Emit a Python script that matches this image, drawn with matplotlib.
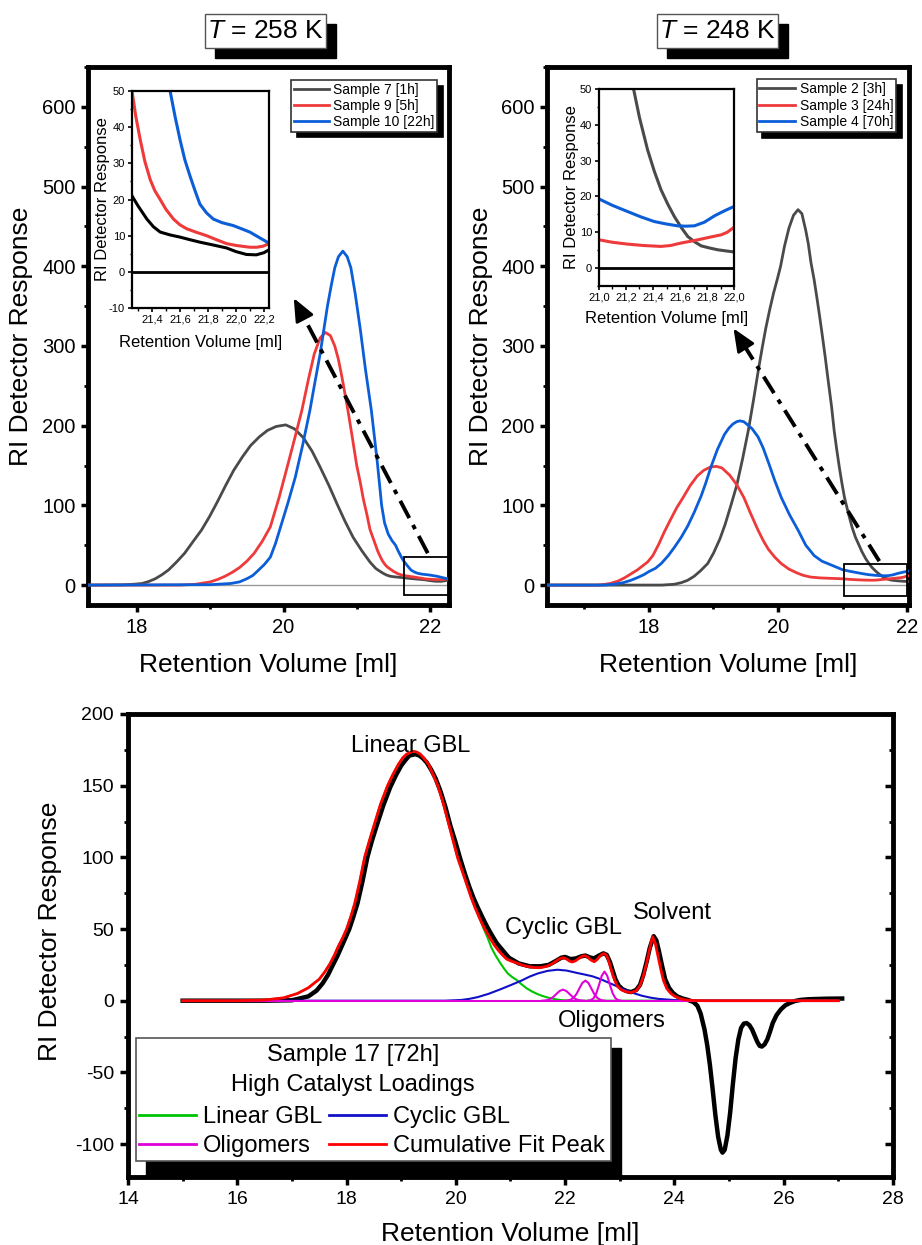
## GPC traces of GBL polymerisation samples at two temperatures + peak fit

import matplotlib
matplotlib.use('Agg')
import matplotlib.pyplot as plt
from matplotlib.patches import Rectangle
from matplotlib.ticker import MultipleLocator

plt.rcParams['font.family'] = ['Liberation Sans', 'DejaVu Sans']
plt.rcParams['mathtext.fontset'] = 'custom'
plt.rcParams['mathtext.it'] = 'Liberation Sans:italic'
plt.rcParams['mathtext.rm'] = 'Liberation Sans'
plt.rcParams['axes.unicode_minus'] = False

## Data: T = 258 K
vol_s7 = [17.33, 17.8, 17.95, 18.07, 18.16, 18.25, 18.34, 18.43, 18.54, 18.65, 18.76, 18.88, 18.99, 19.1,
          19.21, 19.32, 19.44, 19.55, 19.67, 19.78, 19.9, 20.03, 20.15, 20.27, 20.39, 20.5, 20.62, 20.73,
          20.84, 20.95, 21.07, 21.18, 21.258, 21.3, 21.364, 21.41, 21.459, 21.53, 21.601, 21.67, 21.743,
          21.84, 21.933, 22.0, 22.075, 22.146, 22.2, 22.26]
ri_s7 = [0, 0.3, 1, 2, 4.5, 8, 13, 19, 29, 40, 54, 69, 86, 105,
         125, 144, 161, 175, 186, 194, 199, 201, 196, 185, 168, 148, 125, 102,
         80, 60, 43, 29, 21, 18.3, 14.6, 12.5, 11, 10.2, 9.6, 8.9, 8.2,
         7.4, 6.6, 5.6, 4.8, 4.7, 5.3, 6.6]

vol_s9 = [17.33, 18.6, 18.8, 18.9, 19.0, 19.1, 19.2, 19.3, 19.4, 19.5, 19.6, 19.71, 19.82, 19.94,
          20.05, 20.15, 20.25, 20.34, 20.42, 20.5, 20.57, 20.64, 20.7, 20.75, 20.8, 20.88, 20.94, 21.0,
          21.05, 21.09, 21.14, 21.18, 21.258, 21.285, 21.317, 21.35, 21.388, 21.42, 21.459, 21.5, 21.554,
          21.6, 21.649, 21.72, 21.79, 21.86, 21.933, 22.0, 22.099, 22.15, 22.194, 22.26]
ri_s9 = [0, 0, 1, 2.5, 4, 7, 11, 16, 22, 30, 40, 55, 73, 110,
         148, 183, 219, 258, 290, 310, 317, 313, 300, 283, 260, 219, 185, 150,
         128, 108, 88, 70, 50, 43, 36.5, 30.5, 25.5, 22.5, 20, 17.3, 14.6,
         13, 11.9, 10.9, 10, 8.9, 7.8, 7.3, 6.8, 6.8, 7.1, 8.2]

vol_s10 = [17.33, 19.0, 19.28, 19.4, 19.5, 19.58, 19.65, 19.74, 19.82, 19.89, 19.96, 20.06, 20.16, 20.26,
           20.36, 20.43, 20.5, 20.55, 20.6, 20.65, 20.7, 20.75, 20.81, 20.87, 20.92, 20.98, 21.05, 21.12,
           21.2, 21.28, 21.34, 21.38, 21.43, 21.48, 21.53, 21.565, 21.601, 21.635, 21.672, 21.71, 21.743,
           21.79, 21.838, 21.9, 21.98, 22.04, 22.099, 22.17, 22.26]
ri_s10 = [0, 0.5, 2, 4, 8, 12, 18, 26, 35, 52, 73, 103, 135, 175,
          219, 255, 290, 320, 350, 375, 398, 412, 419, 412, 398, 365, 320, 270,
          219, 155, 100, 78, 64, 56, 50, 43, 36.5, 31, 26.5, 22.2, 18.7,
          16.3, 14.6, 13.6, 12.8, 11.9, 11, 9.4, 7.4]

## Data: T = 248 K
vol_s2 = [16.42, 18.2, 18.39, 18.5, 18.6, 18.7, 18.8, 18.91, 19.0, 19.1, 19.18, 19.27, 19.36, 19.45,
          19.54, 19.62, 19.7, 19.76, 19.81, 19.87, 19.93, 19.99, 20.04, 20.1, 20.17, 20.24, 20.31, 20.37,
          20.43, 20.47, 20.51, 20.56, 20.6, 20.64, 20.68, 20.73, 20.78, 20.83, 20.87, 20.91, 20.95, 20.99,
          21.03, 21.09, 21.15, 21.2, 21.256, 21.3, 21.36, 21.41, 21.459, 21.51, 21.558, 21.61, 21.658,
          21.71, 21.757, 21.82, 21.881, 21.94, 22.0, 22.03]
ri_s2 = [0, 0, 1, 3, 6, 11, 18, 27, 40, 58, 76, 100, 125, 158,
         194, 232, 272, 300, 322, 345, 366, 384, 400, 425, 448, 464, 471, 466,
         445, 428, 405, 383, 362, 340, 317, 287, 255, 224, 194, 170, 148, 128,
         110, 90, 72, 60, 50, 42, 33, 27, 21.9, 17.8, 14.4, 11.3, 8.8,
         7.3, 6.2, 5.6, 5.1, 4.8, 4.5, 4.4]

vol_s3 = [16.42, 17.2, 17.3, 17.4, 17.52, 17.62, 17.72, 17.82, 17.9, 17.98, 18.06, 18.15, 18.24, 18.34,
          18.43, 18.53, 18.64, 18.75, 18.85, 18.95, 19.04, 19.13, 19.25, 19.36, 19.47, 19.58, 19.69, 19.77,
          19.85, 19.95, 20.05, 20.17, 20.3, 20.4, 20.51, 20.65, 20.8, 21.0, 21.1, 21.211, 21.33, 21.459,
          21.53, 21.608, 21.68, 21.757, 21.83, 21.906, 21.95, 22.0, 22.03]
ri_s3 = [0, 0, 0.8, 2, 5, 9, 14, 19, 24, 29, 37, 51, 67, 83,
         97, 110, 125, 137, 144, 148, 149, 147, 138, 126, 110, 89, 69, 56,
         45, 35, 27, 20, 15, 12, 10, 9, 8.5, 7.9, 7.2, 6.7, 6.3, 6.05,
         6.3, 7, 7.5, 8.1, 8.7, 9.3, 10.0, 11.4, 11.8]

vol_s4 = [16.42, 17.3, 17.45, 17.6, 17.72, 17.84, 17.92, 18.0, 18.1, 18.19, 18.3, 18.4, 18.5, 18.6,
          18.7, 18.81, 18.88, 18.96, 19.06, 19.17, 19.24, 19.3, 19.36, 19.41, 19.47, 19.53, 19.6, 19.69,
          19.77, 19.86, 19.95, 20.05, 20.18, 20.31, 20.43, 20.56, 20.68, 20.8, 21.0, 21.1, 21.211, 21.31,
          21.409, 21.5, 21.583, 21.645, 21.707, 21.78, 21.856, 21.93, 22.0, 22.03]
ri_s4 = [0, 0, 1, 3, 6, 10, 13, 17, 21, 27, 37, 48, 60, 74,
         91, 112, 128, 148, 170, 189, 197, 202, 205, 206, 205, 201, 196, 186,
         172, 152, 131, 110, 88, 69, 50, 37, 30, 26, 19.3, 17.5, 15.8, 14.3,
         13, 12.3, 11.8, 11.7, 11.8, 12.8, 14.6, 16.0, 17.2, 17.6]

## Data: Sample 17 [72h] with fitted components
vol_meas = [15.0, 16.5, 17.0, 17.3, 17.45, 17.56, 17.66, 17.75, 17.83, 17.9, 17.97, 18.05, 18.12, 18.2,
            18.29, 18.38, 18.46, 18.55, 18.67, 18.8, 18.9, 19.0, 19.08, 19.15, 19.26, 19.33, 19.4, 19.47,
            19.55, 19.63, 19.72, 19.81, 19.9, 19.99, 20.08, 20.17, 20.25, 20.33, 20.4, 20.5, 20.58, 20.67,
            20.75, 20.86, 20.97, 21.15, 21.35, 21.55, 21.7, 21.82, 21.93, 22.0, 22.1, 22.2, 22.3, 22.37,
            22.45, 22.53, 22.62, 22.7, 22.76, 22.82, 22.87, 22.92, 22.98, 23.05, 23.13, 23.21, 23.3, 23.37,
            23.43, 23.49, 23.55, 23.62, 23.67, 23.72, 23.77, 23.83, 23.9, 23.97, 24.05, 24.15, 24.25, 24.35,
            24.42, 24.48, 24.55, 24.6, 24.65, 24.7, 24.75, 24.8, 24.85, 24.88, 24.92, 24.97, 25.02, 25.07,
            25.12, 25.17, 25.22, 25.27, 25.32, 25.37, 25.42, 25.47, 25.52, 25.56, 25.6, 25.65, 25.7, 25.75,
            25.8, 25.87, 25.95, 26.03, 26.12, 26.2, 26.3, 26.45, 26.6, 26.8, 27.07]
ri_meas = [0, 0, 0.3, 3, 7, 12, 18, 25, 31, 37, 43, 50, 58, 68,
           83, 100, 111, 122, 136, 149, 157, 164, 168, 171, 172, 171, 169, 166,
           161, 155, 146, 135, 122, 111, 99, 88, 79, 71, 65, 57, 51, 45,
           40, 35, 30, 26, 24, 24, 25, 27.5, 30, 30.5, 29, 29.5, 31, 31.5,
           30.2, 29.5, 31.5, 33, 32, 27, 21, 15, 10.5, 8, 6.6, 6, 7.5, 11,
           18, 27, 37, 45, 42, 34, 25, 15, 9, 5.5, 3, 1.5, 0.5, -1,
           -3.5, -9, -20, -31, -45, -62, -80, -95, -104, -106, -104, -94, -78, -58,
           -40, -27, -19, -16, -15.6, -17, -20, -24.5, -29, -31.5, -32, -30.5, -27, -21.5,
           -15.5, -10, -6, -3.2, -1.5, -0.3, 0.5, 1, 1.2, 1.4, 1.5]

vol_lin = [15.0, 16.0, 16.5, 16.85, 17.1, 17.3, 17.5, 17.6, 17.7, 17.78, 17.85, 17.93, 18.0, 18.08,
           18.15, 18.24, 18.33, 18.42, 18.5, 18.62, 18.75, 18.85, 18.95, 19.03, 19.1, 19.21, 19.28, 19.35,
           19.42, 19.5, 19.58, 19.67, 19.76, 19.85, 19.94, 20.03, 20.12, 20.2, 20.28, 20.35, 20.44, 20.5,
           20.58, 20.65, 20.72, 20.8, 20.88, 20.95, 21.03, 21.11, 21.2, 21.3, 21.4, 21.5, 21.6, 21.7,
           21.8, 21.9, 22.05, 22.2, 27.0]
ri_lin = [0, 0, 0.5, 2, 5, 9, 15, 20, 26, 32, 38, 44, 50, 59,
          68, 83, 100, 112, 122, 137, 150, 158, 165, 169.5, 172, 174, 173.5, 172,
          169, 165, 158, 150, 139, 126, 113, 100, 90, 81, 72, 65, 57, 51,
          44, 37, 32, 27, 22.5, 19, 16.5, 14.5, 11.5, 8.5, 6.3, 4.5, 3.1, 2,
          1.2, 0.5, 0.1, 0, 0]

vol_cyc = [15.0, 19.8, 20.1, 20.25, 20.4, 20.6, 20.8, 21.0, 21.2, 21.35, 21.5, 21.68, 21.86, 22.03,
           22.2, 22.35, 22.5, 22.65, 22.8, 22.95, 23.1, 23.25, 23.4, 23.55, 23.7, 24.0, 24.3, 27.0]
ri_cyc = [0, 0, 0.5, 1.3, 2.5, 4.8, 7.7, 10.8, 14, 16.8, 19, 20.8, 21.6, 21,
          19.5, 18.3, 17, 15, 12.5, 10, 7.5, 5.3, 3.5, 2.2, 1.3, 0.4, 0.1, 0]

vol_olig_base = [15.0, 27.0]
ri_olig_base = [0, 0]
vol_olig1 = [21.58, 21.66, 21.72, 21.78, 21.84, 21.9, 21.96, 22.02, 22.08, 22.14, 22.2, 22.26, 22.34]
ri_olig1 = [0, 0.3, 1.0, 2.5, 4.7, 6.8, 7.7, 6.8, 4.7, 2.5, 1.0, 0.3, 0]
vol_olig2 = [22.02, 22.09, 22.15, 22.205, 22.26, 22.315, 22.37, 22.425, 22.48, 22.535, 22.59, 22.65, 22.72]
ri_olig2 = [0, 0.5, 1.9, 4.5, 8.5, 12.4, 14, 12.4, 8.5, 4.5, 1.9, 0.5, 0]
vol_olig3 = [22.42, 22.47, 22.52, 22.57, 22.62, 22.67, 22.72, 22.77, 22.82, 22.87, 22.92, 22.97, 23.02]
ri_olig3 = [0, 0.4, 1.7, 5.1, 11, 17.4, 20.3, 17.4, 11, 5.1, 1.7, 0.4, 0]

vol_fit = [15.0, 16.0, 16.5, 16.85, 17.1, 17.3, 17.5, 17.6, 17.7, 17.78, 17.85, 17.93, 18.0, 18.08,
           18.15, 18.24, 18.33, 18.42, 18.5, 18.62, 18.75, 18.85, 18.95, 19.03, 19.1, 19.21, 19.28, 19.35,
           19.42, 19.5, 19.58, 19.67, 19.76, 19.85, 19.94, 20.03, 20.12, 20.2, 20.28, 20.35, 20.44, 20.53,
           20.62, 20.7, 20.78, 20.85, 20.93, 21.02, 21.1, 21.2, 21.3, 21.42, 21.53, 21.65, 21.75, 21.84,
           21.9, 21.96, 22.02, 22.08, 22.13, 22.19, 22.26, 22.31, 22.36, 22.41, 22.47, 22.53, 22.58, 22.63,
           22.68, 22.72, 22.76, 22.8, 22.84, 22.88, 22.92, 22.96, 23.02, 23.1, 23.21, 23.3, 23.37, 23.43,
           23.49, 23.54, 23.6, 23.65, 23.7, 23.75, 23.8, 23.86, 23.93, 24.0, 24.1, 24.2, 24.35, 24.6,
           27.0]
ri_fit = [0, 0, 0.5, 2, 5, 9, 15, 20, 26, 32, 38, 44, 50, 59,
          68, 83, 100, 112, 122, 137, 150, 158, 165, 169.5, 172, 174, 173.5, 172,
          169, 165, 158, 150, 139, 126, 113, 100, 90, 81, 72, 65, 57, 50,
          44, 39, 35, 32, 29, 27.5, 26.5, 25, 24, 23.2, 23, 23.8, 25.5, 27.8,
          29.3, 30, 29.2, 27.6, 27, 27.8, 29.8, 31, 31.4, 30.5, 28.4, 27.2, 28.5, 30.8,
          32.5, 32.8, 31.5, 27.5, 22, 17, 13, 10, 7.8, 6.4, 5.6, 7, 10.5, 17,
          26, 35, 44.7, 40, 31, 22, 14, 8.5, 5.2, 3.2, 1.5, 0.6, 0.1, 0,
          0]

tl_inset_ticks = [21.4, 21.6, 21.8, 22.0, 22.2]
tl_inset_labels = ['21,4', '21,6', '21,8', '22,0', '22,2']
tr_inset_ticks = [21.0, 21.2, 21.4, 21.6, 21.8, 22.0]
tr_inset_labels = ['21,0', '21,2', '21,4', '21,6', '21,8', '22,0']

c_gray = '#4a4a4a'
c_red = '#ee3a3a'
c_blue = '#0b5ed7'

W, H = 922, 1245
fig = plt.figure(figsize=(W / 100, H / 100), dpi=100)


def fig_box(x0, y0, x1, y1):
    # pixel box (top-left origin) -> figure fraction rect
    return [x0 / W, 1 - y1 / H, (x1 - x0) / W, (y1 - y0) / H]


def style_main(ax, lw=3.5):
    for s in ax.spines.values():
        s.set_linewidth(lw)
    ax.tick_params(which='major', direction='out', length=5, width=2.5, labelsize=14.5, pad=4,
                   top=False, right=False)
    ax.tick_params(which='minor', direction='out', length=3, width=2, top=False, right=False)


def style_inset(ax):
    for s in ax.spines.values():
        s.set_linewidth(1.6)
    ax.tick_params(which='major', direction='out', length=3, width=1.2, labelsize=8, pad=2)
    ax.tick_params(which='minor', direction='out', length=1.8, width=1)


def title_box(xc, text):
    w, h = 121, 34
    x0, y0 = xc - w / 2, 14
    fig.add_artist(Rectangle(((x0 + 10) / W, 1 - (y0 + h + 10) / H), w / W, h / H,
                             transform=fig.transFigure, facecolor='k', edgecolor='k', zorder=1))
    fig.add_artist(Rectangle((x0 / W, 1 - (y0 + h) / H), w / W, h / H,
                             transform=fig.transFigure, facecolor='white', edgecolor='#555555',
                             lw=1, zorder=2))
    fig.text(xc / W, 1 - (y0 + h / 2) / H, text, ha='center', va='center', fontsize=19, zorder=3)


def dashdot_arrow(ax, start, tip, frac=0.06):
    # dash-dot shaft plus solid filled head
    bx = tip[0] + frac * (start[0] - tip[0])
    by = tip[1] + frac * (start[1] - tip[1])
    ax.plot([start[0], bx], [start[1], by], color='k', lw=2.8,
            linestyle=(0, (5, 2, 1.2, 2)), zorder=6)
    ax.annotate('', xy=tip, xytext=(bx, by),
                arrowprops=dict(arrowstyle='-|>,head_length=0.7,head_width=0.3', color='k',
                                lw=2, mutation_scale=20, shrinkA=0, shrinkB=0), zorder=6)


## Top-left panel: T = 258 K
ax1 = fig.add_axes(fig_box(88, 67, 449, 605))
ax1.axhline(0, color='#9a9a9a', lw=1, zorder=1)
ax1.plot(vol_s7, ri_s7, color=c_gray, lw=2, label='Sample 7 [1h]', zorder=3)
ax1.plot(vol_s9, ri_s9, color=c_red, lw=2, label='Sample 9 [5h]', zorder=3)
ax1.plot(vol_s10, ri_s10, color=c_blue, lw=2, label='Sample 10 [22h]', zorder=3)
ax1.set_xlim(17.33, 22.26)
ax1.set_ylim(-25, 650)
ax1.set_xticks([18, 20, 22])
ax1.xaxis.set_minor_locator(MultipleLocator(1))
ax1.set_yticks([0, 100, 200, 300, 400, 500, 600])
ax1.yaxis.set_minor_locator(MultipleLocator(50))
style_main(ax1)
ax1.set_xlabel('Retention Volume [ml]', fontsize=19)
ax1.set_ylabel('RI Detector Response', fontsize=19)
ax1.xaxis.set_label_coords(0.5, -0.09)
ax1.yaxis.set_label_coords(-0.152, 0.5)
ax1.add_patch(Rectangle((21.65, -13), 0.61, 48, fill=False, edgecolor='k', lw=1.3, zorder=4))
dashdot_arrow(ax1, (21.97, 40), (20.14, 360))
ax1.legend(loc='upper right', bbox_to_anchor=(437 / W, 1 - 80 / H), bbox_transform=fig.transFigure,
           borderaxespad=0, fontsize=10, handlelength=2.5, handletextpad=0.3, labelspacing=0.15,
           borderpad=0.2, fancybox=False, framealpha=1, edgecolor='#333333',
           shadow={'ox': 4, 'oy': -4, 'facecolor': 'k', 'edgecolor': 'k', 'alpha': 1})
ax1.get_legend().get_frame().set_linewidth(1.2)

ins1 = fig.add_axes(fig_box(132, 91, 269, 308))
ins1.axhline(0, color='k', lw=2, zorder=1)
ins1.plot(vol_s7, ri_s7, color='k', lw=2.2)
ins1.plot(vol_s9, ri_s9, color=c_red, lw=2.2)
ins1.plot(vol_s10, ri_s10, color=c_blue, lw=2.2)
ins1.set_xlim(21.258, 22.236)
ins1.set_ylim(-10, 50)
ins1.set_xticks(tl_inset_ticks)
ins1.set_xticklabels(tl_inset_labels)
ins1.xaxis.set_minor_locator(MultipleLocator(0.1))
ins1.set_yticks([-10, 0, 10, 20, 30, 40, 50])
ins1.yaxis.set_minor_locator(MultipleLocator(5))
style_inset(ins1)
ins1.set_xlabel('Retention Volume [ml]', fontsize=12)
ins1.set_ylabel('RI Detector Response', fontsize=12)
ins1.xaxis.set_label_coords(0.5, -0.124)
ins1.yaxis.set_label_coords(-0.16, 0.5)

## Top-right panel: T = 248 K
ax2 = fig.add_axes(fig_box(547, 67, 909, 605))
ax2.axhline(0, color='#9a9a9a', lw=1, zorder=1)
ax2.plot(vol_s2, ri_s2, color=c_gray, lw=2, label='Sample 2 [3h]', zorder=3)
ax2.plot(vol_s3, ri_s3, color=c_red, lw=2, label='Sample 3 [24h]', zorder=3)
ax2.plot(vol_s4, ri_s4, color=c_blue, lw=2, label='Sample 4 [70h]', zorder=3)
ax2.set_xlim(16.42, 22.03)
ax2.set_ylim(-25, 650)
ax2.set_xticks([18, 20, 22])
ax2.xaxis.set_minor_locator(MultipleLocator(1))
ax2.set_yticks([0, 100, 200, 300, 400, 500, 600])
ax2.yaxis.set_minor_locator(MultipleLocator(50))
style_main(ax2)
ax2.set_xlabel('Retention Volume [ml]', fontsize=19)
ax2.set_ylabel('RI Detector Response', fontsize=19)
ax2.xaxis.set_label_coords(0.5, -0.09)
ax2.yaxis.set_label_coords(-0.15, 0.5)
ax2.add_patch(Rectangle((21.02, -14), 0.98, 40, fill=False, edgecolor='k', lw=1.3, zorder=4))
dashdot_arrow(ax2, (21.57, 30), (19.31, 322))
ax2.legend(loc='upper right', bbox_to_anchor=(896 / W, 1 - 79 / H), bbox_transform=fig.transFigure,
           borderaxespad=0, fontsize=10, handlelength=2.6, handletextpad=0.3, labelspacing=0.2,
           borderpad=0.2, fancybox=False, framealpha=1, edgecolor='#333333',
           shadow={'ox': 4, 'oy': -4, 'facecolor': 'k', 'edgecolor': 'k', 'alpha': 1})
ax2.get_legend().get_frame().set_linewidth(1.2)

ins2 = fig.add_axes(fig_box(599, 89, 734, 286))
ins2.axhline(0, color='k', lw=2, zorder=1)
ins2.plot(vol_s2, ri_s2, color=c_gray, lw=2.2)
ins2.plot(vol_s3, ri_s3, color=c_red, lw=2.2)
ins2.plot(vol_s4, ri_s4, color=c_blue, lw=2.2)
ins2.set_xlim(21.0, 22.0)
ins2.set_ylim(-5, 50)
ins2.set_xticks(tr_inset_ticks)
ins2.set_xticklabels(tr_inset_labels)
ins2.xaxis.set_minor_locator(MultipleLocator(0.1))
ins2.set_yticks([0, 10, 20, 30, 40, 50])
ins2.yaxis.set_minor_locator(MultipleLocator(5))
style_inset(ins2)
ins2.set_xlabel('Retention Volume [ml]', fontsize=12)
ins2.set_ylabel('RI Detector Response', fontsize=12)
ins2.xaxis.set_label_coords(0.5, -0.127)
ins2.yaxis.set_label_coords(-0.148, 0.5)

title_box(265.5, '$T$ = 258 K')
title_box(717.5, '$T$ = 248 K')

## Bottom panel: peak fit of Sample 17
ax3 = fig.add_axes(fig_box(128, 714, 893, 1177))
ax3.plot(vol_meas, ri_meas, color='k', lw=3.2, zorder=2)
ax3.plot(vol_lin, ri_lin, color='#00c400', lw=1.5, label='Linear GBL', zorder=2.4)
ax3.plot(vol_cyc, ri_cyc, color='#1010c8', lw=1.5, label='Cyclic GBL', zorder=2.4)
ax3.plot(vol_olig_base, ri_olig_base, color='#e000d8', lw=1.5, label='Oligomers', zorder=2.5)
for vx, vy in [(vol_olig1, ri_olig1), (vol_olig2, ri_olig2), (vol_olig3, ri_olig3)]:
    ax3.plot(vx, vy, color='#e000d8', lw=1.5, zorder=2.5)
ax3.plot(vol_fit, ri_fit, color='#ff0000', lw=2, label='Cumulative Fit Peak', zorder=3)
ax3.set_xlim(14, 28)
ax3.set_ylim(-123, 200)
ax3.set_xticks([14, 16, 18, 20, 22, 24, 26, 28])
ax3.xaxis.set_minor_locator(MultipleLocator(1))
ax3.set_yticks([-100, -50, 0, 50, 100, 150, 200])
ax3.yaxis.set_minor_locator(MultipleLocator(25))
for s in ax3.spines.values():
    s.set_linewidth(3.5)
ax3.tick_params(which='major', direction='out', length=6, width=2.5, labelsize=14, pad=4)
ax3.tick_params(which='minor', direction='out', length=3, width=2)
ax3.tick_params(axis='y', which='both', right=True, labelright=False)
ax3.set_xlabel('Retention Volume [ml]', fontsize=19)
ax3.set_ylabel('RI Detector Response', fontsize=19)
ax3.xaxis.set_label_coords(0.5, -0.097)
ax3.yaxis.set_label_coords(-0.086, 0.53)
# right-hand ticks point inward
for t in ax3.yaxis.get_major_ticks() + ax3.yaxis.get_minor_ticks():
    t.tick2line.set_marker(matplotlib.lines.TICKLEFT)

ax3.text(19.17, 178, 'Linear GBL', ha='center', va='center', fontsize=17)
ax3.text(21.97, 51, 'Cyclic GBL', ha='center', va='center', fontsize=17)
ax3.text(23.96, 61, 'Solvent', ha='center', va='center', fontsize=17)
ax3.text(22.86, -14.5, 'Oligomers', ha='center', va='center', fontsize=17)

# legend panel: drop-shadow box with a two-line heading, entries drawn by ax3.legend
ax3.add_patch(Rectangle((146 / W, 1 - 1176 / H), 475 / W, 128 / H, transform=fig.transFigure,
                        facecolor='k', edgecolor='k', clip_on=False, zorder=4.4))
ax3.add_patch(Rectangle((136 / W, 1 - 1161 / H), 475 / W, 123 / H, transform=fig.transFigure,
                        facecolor='white', edgecolor='#555555', lw=1.2, clip_on=False, zorder=4.5))
ax3.text(353 / W, 1 - 1055 / H, 'Sample 17 [72h]', transform=fig.transFigure,
         ha='center', va='center', fontsize=17, zorder=4.6)
ax3.text(353 / W, 1 - 1085 / H, 'High Catalyst Loadings', transform=fig.transFigure,
         ha='center', va='center', fontsize=17, zorder=4.6)

h, l = ax3.get_legend_handles_labels()
order = [0, 2, 1, 3]
leg = ax3.legend([h[i] for i in order], [l[i] for i in order], ncol=2,
                 loc='upper left', bbox_to_anchor=(139 / W, 1 - 1106 / H),
                 bbox_transform=fig.transFigure, borderaxespad=0, borderpad=0, fontsize=17,
                 handlelength=2.4, handletextpad=0.3, labelspacing=0.3, columnspacing=0.3,
                 frameon=False)
for line in leg.get_lines():
    line.set_linewidth(2)

fig.savefig('out.png', dpi=100)
